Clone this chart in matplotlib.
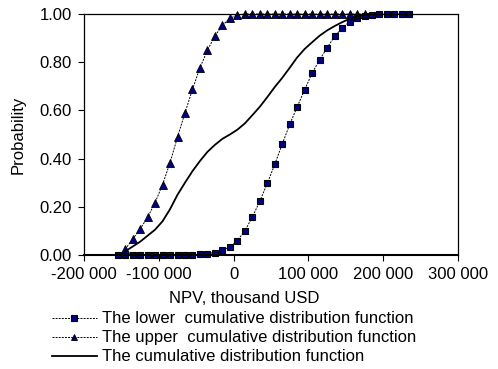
import matplotlib
matplotlib.use("Agg")
from matplotlib import pyplot as plt
from matplotlib.ticker import FuncFormatter, MultipleLocator

plt.rcParams['font.family'] = ['Liberation Sans', 'DejaVu Sans']
plt.rcParams['font.size'] = 12

# NPV grid (thousand USD)
lower_x = [-155000, -145000, -135000, -125000, -115000, -105000, -95000, -85000,
           -75000, -65000, -55000, -45000, -35000, -25000, -15000, -5000,
           5000, 15000, 25000, 35000, 45000, 55000, 65000, 75000, 85000, 95000,
           105000, 115000, 125000, 135000, 145000, 155000, 165000, 175000,
           185000, 195000, 205000, 215000, 225000, 235000]
lower_p = [0.0, 0.0, 0.0, 0.0, 0.0, 0.0, 0.0, 0.0,
           0.0, 0.0, 0.001, 0.002, 0.006, 0.01, 0.019, 0.034,
           0.06, 0.10, 0.157, 0.223, 0.297, 0.376, 0.46, 0.542, 0.615, 0.686,
           0.755, 0.81, 0.86, 0.907, 0.942, 0.968, 0.983, 0.993,
           0.998, 1.0, 1.0, 1.0, 1.0, 1.0]

upper_x = [-145000, -135000, -125000, -115000, -105000, -95000, -85000,
           -75000, -65000, -55000, -45000, -35000, -25000, -15000, -5000,
           5000, 15000, 25000, 35000, 45000, 55000, 65000, 75000, 85000, 95000,
           105000, 115000, 125000, 135000, 145000, 155000, 165000, 175000]
upper_p = [0.024, 0.065, 0.108, 0.156, 0.217, 0.292, 0.383,
           0.49, 0.59, 0.687, 0.777, 0.85, 0.909, 0.953, 0.982,
           0.996, 1.0, 1.0, 1.0, 1.0, 1.0, 1.0, 1.0, 1.0, 1.0,
           1.0, 1.0, 1.0, 1.0, 1.0, 1.0, 1.0, 1.0]

cdf_x = [-145000, -135000, -125000, -115000, -105000, -95000, -85000,
         -75000, -65000, -55000, -45000, -35000, -25000, -15000, -5000,
         5000, 15000, 25000, 35000, 45000, 55000, 65000, 75000, 85000, 95000,
         105000, 115000, 125000, 135000, 145000, 155000, 165000, 175000, 185000]
cdf_p = [0.015, 0.035, 0.055, 0.08, 0.105, 0.14, 0.19,
         0.25, 0.30, 0.348, 0.39, 0.428, 0.457, 0.482, 0.50,
         0.52, 0.546, 0.58, 0.615, 0.655, 0.697, 0.735, 0.777, 0.82, 0.855,
         0.883, 0.91, 0.932, 0.95, 0.966, 0.98, 0.99, 0.997, 1.0]

labels = ["The lower  cumulative distribution function",
          "The upper  cumulative distribution function",
          "The cumulative distribution function"]

fig = plt.figure(figsize=(4.98, 3.69), dpi=100)
ax = fig.add_axes([0.1687, 0.309, 0.751, 0.653])

dots = (0, (2, 1.2))
ax.plot(lower_x, lower_p, color='black', linestyle=dots, linewidth=0.7,
        marker='s', markersize=5, markerfacecolor='#000080',
        markeredgecolor='black', markeredgewidth=0.8, label=labels[0], clip_on=False)
ax.plot(upper_x, upper_p, color='black', linestyle=dots, linewidth=0.7,
        marker='^', markersize=5.4, markerfacecolor='#000080',
        markeredgecolor='black', markeredgewidth=0.6, label=labels[1], clip_on=False)
ax.plot(cdf_x, cdf_p, color='black', linewidth=1.3, label=labels[2])

ax.set_xlim(-200000, 300000)
ax.set_ylim(0, 1)
ax.xaxis.set_major_locator(MultipleLocator(100000))
ax.yaxis.set_major_locator(MultipleLocator(0.2))
ax.xaxis.set_major_formatter(FuncFormatter(lambda v, p: "{:,.0f}".format(v).replace(",", " ")))
ax.yaxis.set_major_formatter(FuncFormatter(lambda v, p: "{:.2f}".format(v)))
ax.tick_params(direction='out', length=4.3, width=0.8, labelsize=12, pad=4.5)

for s in ax.spines.values():
    s.set_linewidth(0.9)
ax.spines['bottom'].set_linewidth(1.5)

ax.set_xlabel("NPV, thousand USD", fontsize=12)
ax.xaxis.set_label_coords(0.428, -0.148)
ax.set_ylabel("Probability", fontsize=12)
ax.yaxis.set_label_coords(-0.155, 0.5)

fig.legend(loc='upper left', bbox_to_anchor=(0.104, 0.156), frameon=False,
           fontsize=12, handlelength=2.7, handletextpad=0.3, labelspacing=0.24,
           borderpad=0, borderaxespad=0, markerscale=0.85)

fig.savefig("out.png", dpi=100)
